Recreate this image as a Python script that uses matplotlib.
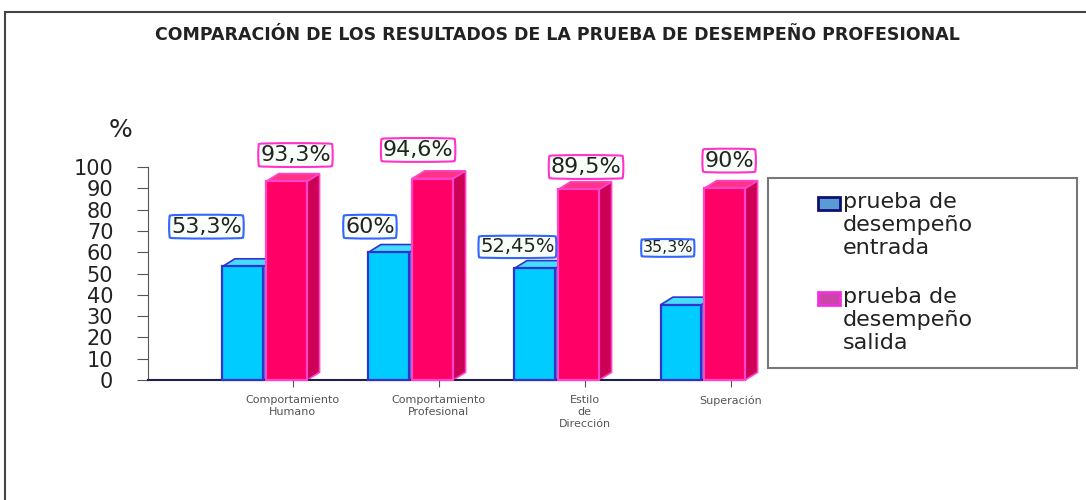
import numpy as np
import matplotlib.pyplot as plt
from matplotlib.patches import Polygon, Rectangle

# datos
categorias = ["Comportamiento\nHumano", "Comportamiento\nProfesional", "Estilo\nde\nDirección", "Superación"]
entrada = [53.3, 60.0, 52.45, 35.3]
salida = [93.3, 94.6, 89.5, 90.0]
etiq_entrada = ["53,3%", "60%", "52,45%", "35,3%"]
etiq_salida = ["93,3%", "94,6%", "89,5%", "90%"]
series = ["prueba de\ndesempeño\nentrada", "prueba de\ndesempeño\nsalida"]
titulo = "COMPARACIÓN DE LOS RESULTADOS DE LA PRUEBA DE DESEMPEÑO PROFESIONAL"
yticks = np.arange(0, 101, 10)

# estilo
W, H = 1086, 500
frente = ["#00CCFF", "#FF0066"]
arriba = ["#44DDFF", "#FF3388"]
lado = ["#00A8E0", "#CC0055"]
borde = ["#3333CC", "#FF44CC"]
ancho = 0.28
desp = [-0.15, 0.15]
dx, dy = 0.085, 3.6
# posicion de las etiquetas (dx en categorias, y en %) y tamaño
pos_ent = [(-0.40, 72), (-0.28, 72), (-0.27, 62.5), (-0.24, 62)]
tam_ent = [16, 16, 14, 11.5]
pos_sal = [(0.21, 105.6), (0.05, 108), (0.20, 100), (0.18, 103)]
tam_sal = [16, 16, 16, 16]

fig = plt.figure(figsize=(W / 100, H / 100), dpi=100)
fig.patch.set_facecolor("white")

# marco general
fig.patches.append(Rectangle((5 / W, -0.1), 1.2, 1 - 12 / H + 0.1, transform=fig.transFigure,
                             fill=False, edgecolor="#444444", lw=1.5))

ax = fig.add_axes([148 / W, 120 / H, (743 - 148) / W, 110 * 2.13 / H])
ax.set_xlim(-0.8, 3.275)
ax.set_ylim(0, 110)


def barra3d(ax, x0, h, j):
    x1 = x0 + ancho
    cara = Polygon([(x0, 0), (x1, 0), (x1, h), (x0, h)], closed=True,
                   facecolor=frente[j], edgecolor=borde[j], lw=1.6, zorder=3, clip_on=False)
    sup = Polygon([(x0, h), (x1, h), (x1 + dx, h + dy), (x0 + dx, h + dy)], closed=True,
                  facecolor=arriba[j], edgecolor=borde[j], lw=1.2, zorder=2, clip_on=False)
    lat = Polygon([(x1, 0), (x1 + dx, dy), (x1 + dx, h + dy), (x1, h)], closed=True,
                  facecolor=lado[j], edgecolor=borde[j], lw=1.2, zorder=2, clip_on=False)
    for p in (lat, sup, cara):
        ax.add_patch(p)


x = np.arange(len(categorias))
for j, vals in enumerate([entrada, salida]):
    for i, v in enumerate(vals):
        barra3d(ax, x[i] + desp[j] - ancho / 2, v, j)

for i in range(len(categorias)):
    px, py = pos_ent[i]
    ax.text(x[i] + px, py, etiq_entrada[i], ha="center", va="center", fontsize=tam_ent[i],
            family="DejaVu Sans", color="#222222", zorder=5,
            bbox=dict(boxstyle="round4,pad=0.1", facecolor="#F8FFF8", edgecolor="#3366FF", lw=1.5))
    px, py = pos_sal[i]
    ax.text(x[i] + px, py, etiq_salida[i], ha="center", va="center", fontsize=tam_sal[i],
            family="DejaVu Sans", color="#222222", zorder=5,
            bbox=dict(boxstyle="round4,pad=0.1", facecolor="#F8FFF8", edgecolor="#FF33CC", lw=1.5))

for s in ["top", "right"]:
    ax.spines[s].set_visible(False)
ax.spines["left"].set_bounds(0, 100)
ax.spines["left"].set_color("#555555")
ax.spines["bottom"].set_color("#202050")
ax.spines["bottom"].set_linewidth(1.5)
ax.set_yticks(yticks)
ax.set_yticklabels([str(t) for t in yticks], fontsize=15, family="DejaVu Sans", color="#222222")
ax.tick_params(axis="y", length=8, color="#555555", pad=17)
ax.set_xticks(x + 0.19)
ax.set_xticklabels(categorias, fontsize=8, family="DejaVu Sans", color="#555555", linespacing=1.25)
ax.tick_params(axis="x", length=5, color="#555555", pad=6)

fig.text(120 / W, 1 - 130 / H, "%", fontsize=18, family="DejaVu Sans", ha="center", va="center",
         color="#222222")
fig.text(557 / W, 1 - 35 / H, titulo, fontsize=12.5, family="DejaVu Sans", fontweight="bold",
         ha="center", va="center", color="#222222")

# leyenda
fig.patches.append(Rectangle((768 / W, 1 - 368 / H), (1077 - 768) / W, 190 / H, transform=fig.transFigure,
                             fill=False, edgecolor="#777777", lw=1.5))
ley_fill = ["#5B9BD5", "#CC44AA"]
ley_edge = ["#101070", "#EE33DD"]
for j, s in enumerate(series):
    y0 = 192 + j * 95
    fig.patches.append(Rectangle((818 / W, 1 - (y0 + 18) / H), 22 / W, 13 / H, transform=fig.transFigure,
                                 facecolor=ley_fill[j], edgecolor=ley_edge[j], lw=2))
    fig.text(843 / W, 1 - y0 / H, s, fontsize=16, family="DejaVu Sans", va="top", ha="left",
             color="#222222", linespacing=1.2)

fig.savefig("out.png", dpi=100)
